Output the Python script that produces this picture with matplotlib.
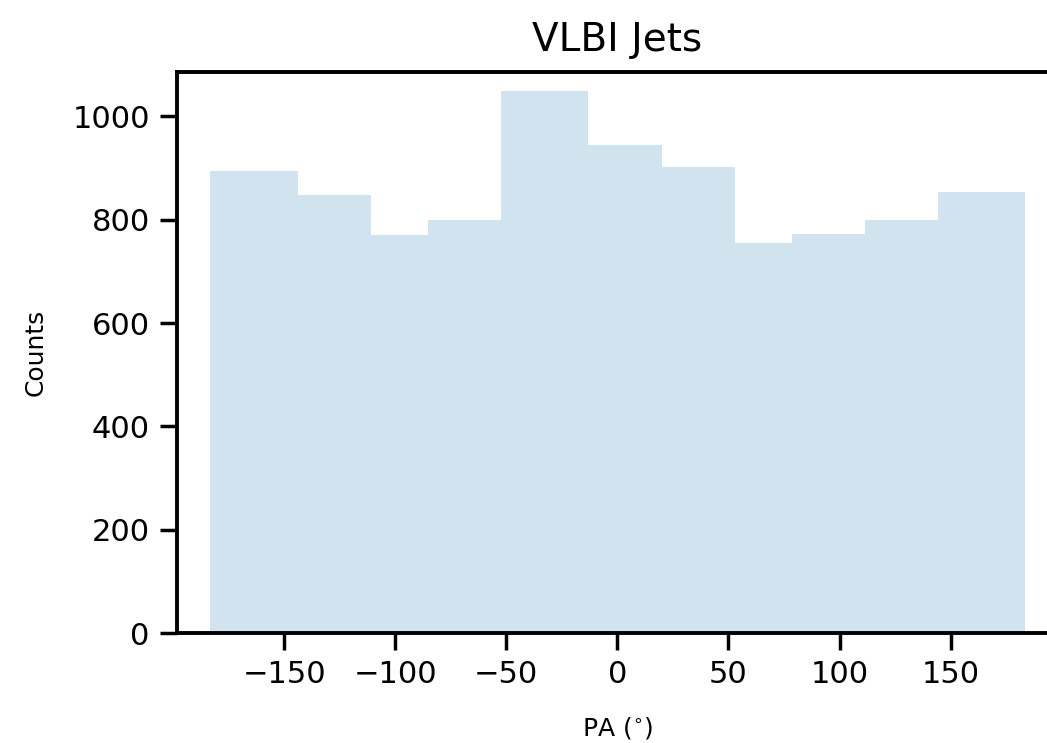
import matplotlib
matplotlib.use("Agg")
import matplotlib.pyplot as plt
import numpy as np

# position-angle bins (degrees) and jet counts per bin
bin_edges = [-183.4, -143.9, -111.0, -85.1, -52.5, -13.0, 20.0,
             52.8, 78.6, 111.3, 144.2, 183.5]
counts = [894, 847, 770, 799, 1048, 944, 901, 754, 772, 799, 854]
x_ticks = [-150, -100, -50, 0, 50, 100, 150]
y_ticks = [0, 200, 400, 600, 800, 1000]

plt.rcParams.update({
    "font.family": "DejaVu Sans",
    "axes.linewidth": 2.8,
    "xtick.major.width": 2.5,
    "ytick.major.width": 2.5,
    "xtick.major.size": 12,
    "ytick.major.size": 12,
    "xtick.labelsize": 22,
    "ytick.labelsize": 22,
    "xtick.major.pad": 7,
    "ytick.major.pad": 8,
})

fig = plt.figure(figsize=(10.47, 7.43), dpi=100)
ax = fig.add_axes([0.1695, 0.1476, 0.8403, 0.7559])

edges = np.asarray(bin_edges)
ax.hist(edges[:-1], bins=edges, weights=counts, color="C0", alpha=0.2)

ax.set_xlim(-198, 198)
ax.set_ylim(0, 1086)
ax.set_xticks(x_ticks)
ax.set_yticks(y_ticks)
ax.spines["right"].set_visible(False)

ax.set_title("VLBI Jets", fontsize=28, pad=15)
ax.set_xlabel(r"PA ($^{\circ}$)", fontsize=18, labelpad=19)
ax.set_ylabel("Counts", fontsize=18, labelpad=18)

fig.savefig("out.png", dpi=100)
